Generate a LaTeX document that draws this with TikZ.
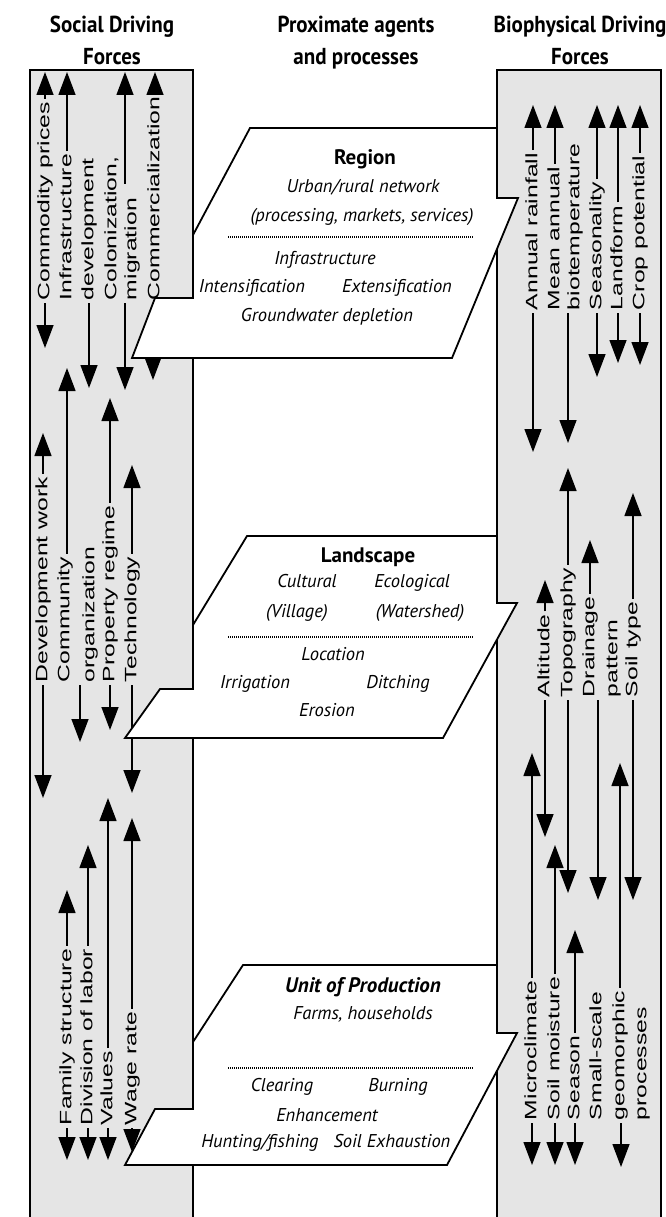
\documentclass[tikz,border=0pt]{standalone}
\usepackage{fontspec}
\setmainfont{PT Sans}
\newfontfamily\labfont{Liberation Sans}
\usetikzlibrary{arrows.meta}
\begin{document}
\begin{tikzpicture}[x=1pt, y=-1pt,
  column/.style={fill=gray!20},
  border/.style={line width=1.8pt},
  vlab/.style={rotate=90, xscale=1.5, anchor=west, inner sep=0pt, outer sep=2pt, text height=12pt, text depth=3.5pt, font=\labfont\fontsize{16.5}{20}\selectfont},
  arr/.style={line width=1.4pt, -{Triangle[length=23pt, width=17pt]}},
  panel/.style={fill=white, line width=1.8pt},
  heading/.style={align=center, anchor=north, inner sep=0pt, yscale=1.1, font=\bfseries\fontsize{21}{29}\selectfont},
  level/.style={inner sep=0pt, text height=14pt, text depth=4pt, font=\bfseries\fontsize{21}{24}\selectfont},
  agent/.style={inner sep=0pt, text height=12pt, text depth=4pt, font=\itshape\fontsize{18.5}{20}\selectfont},
  rule/.style={dash pattern=on 1pt off 1pt, line width=1.3pt}]

  \useasboundingbox (0,0) rectangle (666,1217);
  \fill[column] (30,70) rectangle (193,1217);
  \fill[column] (497,70) rectangle (661,1217);
  \draw[border] (30,1217) -- (30,70) -- (193,70) -- (193,1217);
  \draw[border] (497,1217) -- (497,70) -- (661,70) -- (661,1217);

  \node[heading] (sdf) at (112,16) {Social Driving\\Forces};
  \node[heading] (pap) at (356,16) {Proximate agents\\and processes};
  \node[heading] (bdf) at (580,16) {Biophysical Driving\\Forces};

  \node[vlab] (cp) at (45,303) {Commodity prices};
  \node[vlab] (inf) at (67,303) {Infrastructure};
  \node[vlab] (dev) at (89,303) {development};
  \node[vlab] (col) at (112,303) {Colonization,};
  \node[vlab] (mig) at (132,303) {migration};
  \node[vlab] (com) at (155,303) {Commercialization};
  \coordinate (cp-u) at (45,72);
  \coordinate (cp-d) at (45,348);
  \coordinate (inf-u) at (67,72);
  \coordinate (dev-d) at (89,388);
  \coordinate (mig-s) at (125,184);
  \coordinate (mig-u) at (125,72);
  \coordinate (mig-d) at (125,390);
  \coordinate (com-u) at (155,72);
  \coordinate (com-d) at (153,380);
  \draw[arr] (cp-u |- cp.east) -- (cp-u);
  \draw[arr] (cp-d |- cp.west) -- (cp-d);
  \draw[arr] (inf-u |- inf.east) -- (inf-u);
  \draw[arr] (dev-d |- dev.west) -- (dev-d);
  \draw[arr] (mig-s) -- (mig-u);
  \draw[arr] (mig-d |- mig.west) -- (mig-d);
  \draw[arr] (com-u |- com.east) -- (com-u);
  \draw[arr] (com-d |- com.west) -- (com-d);

  \node[vlab] (dw) at (43,685) {Development work};
  \node[vlab] (cmt) at (65,685) {Community};
  \node[vlab] (org) at (90,685) {organization};
  \node[vlab] (pr) at (110,685) {Property regime};
  \node[vlab] (tec) at (132,685) {Technology};
  \coordinate (dw-u) at (43,433);
  \coordinate (dw-d) at (43,798);
  \coordinate (cmt-u) at (67,368);
  \coordinate (org-d) at (80,742);
  \coordinate (pr-u) at (110,398);
  \coordinate (pr-d) at (110,730);
  \coordinate (tec-u) at (132,465);
  \coordinate (tec-d) at (132,793);
  \draw[arr] (dw-u |- dw.east) -- (dw-u);
  \draw[arr] (dw-d |- dw.west) -- (dw-d);
  \draw[arr] (cmt-u |- cmt.east) -- (cmt-u);
  \draw[arr] (org-d |- org.west) -- (org-d);
  \draw[arr] (pr-u |- pr.east) -- (pr-u);
  \draw[arr] (pr-d |- pr.west) -- (pr-d);
  \draw[arr] (tec-u |- tec.east) -- (tec-u);
  \draw[arr] (tec-d |- tec.west) -- (tec-d);

  \node[vlab] (fs) at (67,1128) {Family structure};
  \node[vlab] (dl) at (88,1128) {Division of labor};
  \node[vlab] (val) at (108,1128) {Values};
  \node[vlab] (wr) at (132,1128) {Wage rate};
  \coordinate (fs-u) at (67,890);
  \coordinate (fs-d) at (67,1160);
  \coordinate (dl-u) at (88,845);
  \coordinate (dl-d) at (88,1160);
  \coordinate (val-u) at (108,798);
  \coordinate (val-d) at (108,1160);
  \coordinate (wr-u) at (132,818);
  \coordinate (wr-d) at (132,1152);
  \draw[arr] (fs-u |- fs.east) -- (fs-u);
  \draw[arr] (fs-d |- fs.west) -- (fs-d);
  \draw[arr] (dl-u |- dl.east) -- (dl-u);
  \draw[arr] (dl-d |- dl.west) -- (dl-d);
  \draw[arr] (val-u |- val.east) -- (val-u);
  \draw[arr] (val-d |- val.west) -- (val-d);
  \draw[arr] (wr-u |- wr.east) -- (wr-u);
  \draw[arr] (wr-d |- wr.west) -- (wr-d);

  \node[vlab] (ar) at (533,313) {Annual rainfall};
  \node[vlab] (ma) at (555,313) {Mean annual};
  \node[vlab] (bt) at (575,313) {biotemperature};
  \node[vlab] (sea) at (597,313) {Seasonality};
  \node[vlab] (lf) at (618,313) {Landform};
  \node[vlab] (crp) at (640,313) {Crop potential};
  \coordinate (ar-u) at (533,105);
  \coordinate (ar-d) at (533,452);
  \coordinate (ma-u) at (555,105);
  \coordinate (bt-d) at (568,443);
  \coordinate (sea-u) at (597,105);
  \coordinate (sea-d) at (597,377);
  \coordinate (lf-u) at (618,105);
  \coordinate (lf-d) at (618,363);
  \coordinate (crp-u) at (640,105);
  \coordinate (crp-d) at (640,365);
  \draw[arr] (ar-u |- ar.east) -- (ar-u);
  \draw[arr] (ar-d |- ar.west) -- (ar-d);
  \draw[arr] (ma-u |- ma.east) -- (ma-u);
  \draw[arr] (bt-d |- bt.west) -- (bt-d);
  \draw[arr] (sea-u |- sea.east) -- (sea-u);
  \draw[arr] (sea-d |- sea.west) -- (sea-d);
  \draw[arr] (lf-u |- lf.east) -- (lf-u);
  \draw[arr] (lf-d |- lf.west) -- (lf-d);
  \draw[arr] (crp-u |- crp.east) -- (crp-u);
  \draw[arr] (crp-d |- crp.west) -- (crp-d);

  \node[vlab] (alt) at (545,700) {Altitude};
  \node[vlab] (topo) at (568,700) {Topography};
  \node[vlab] (dr) at (590,700) {Drainage};
  \node[vlab] (pat) at (613,700) {pattern};
  \node[vlab] (st) at (633,700) {Soil type};
  \coordinate (alt-u) at (545,580);
  \coordinate (alt-d) at (545,837);
  \coordinate (topo-u) at (568,468);
  \coordinate (topo-d) at (568,893);
  \coordinate (dr-u) at (590,540);
  \coordinate (pat-d) at (598,900);
  \coordinate (st-u) at (633,493);
  \coordinate (st-d) at (633,900);
  \draw[arr] (alt-u |- alt.east) -- (alt-u);
  \draw[arr] (alt-d |- alt.west) -- (alt-d);
  \draw[arr] (topo-u |- topo.east) -- (topo-u);
  \draw[arr] (topo-d |- topo.west) -- (topo-d);
  \draw[arr] (dr-u |- dr.east) -- (dr-u);
  \draw[arr] (pat-d |- pat.west) -- (pat-d);
  \draw[arr] (st-u |- st.east) -- (st-u);
  \draw[arr] (st-d |- st.west) -- (st-d);

  \node[vlab] (mc) at (532,1123) {Microclimate};
  \node[vlab] (sm) at (555,1123) {Soil moisture};
  \node[vlab] (ssn) at (575,1123) {Season};
  \node[vlab] (ss) at (597,1123) {Small-scale};
  \node[vlab] (geo) at (620,1123) {geomorphic};
  \node[vlab] (pro) at (642,1123) {processes};
  \coordinate (mc-u) at (532,753);
  \coordinate (mc-d) at (532,1165);
  \coordinate (sm-u) at (555,845);
  \coordinate (sm-d) at (555,1165);
  \coordinate (ssn-u) at (575,930);
  \coordinate (ssn-d) at (575,1165);
  \coordinate (geo-u) at (620,763);
  \coordinate (geo-d) at (621,1167);
  \draw[arr] (mc-u |- mc.east) -- (mc-u);
  \draw[arr] (mc-d |- mc.west) -- (mc-d);
  \draw[arr] (sm-u |- sm.east) -- (sm-u);
  \draw[arr] (sm-d |- sm.west) -- (sm-d);
  \draw[arr] (ssn-u |- ssn.east) -- (ssn-u);
  \draw[arr] (ssn-d |- ssn.west) -- (ssn-d);
  \draw[arr] (geo-u |- geo.east) -- (geo-u);
  \draw[arr] (geo-d |- geo.west) -- (geo-d);

  \filldraw[panel] (132,358) -- (155,298) -- (193,298) -- (193,235) -- (250,128) -- (497,128) -- (497,198) -- (518,198) -- (452,358) -- cycle;
  \node[level] (rg) at (365,160) {Region};
  \node[agent] (rg-a) at (363,189) {Urban/rural network};
  \node[agent] (rg-b) at (362,217) {(processing, markets, services)};
  \draw[rule] (228,237) -- (473,237);
  \node[agent] (rg-c) at (325,260) {Infrastructure};
  \node[agent] (rg-d) at (252,288) {Intensification};
  \node[agent] (rg-e) at (397,288) {Extensification};
  \node[agent] (rg-f) at (327,317) {Groundwater depletion};

  \filldraw[panel] (125,738) -- (160,689) -- (193,689) -- (193,625) -- (247,536) -- (497,536) -- (497,603) -- (517,603) -- (443,738) -- cycle;
  \node[level] (ls) at (368,557) {Landscape};
  \node[agent] (ls-a) at (307,583) {Cultural};
  \node[agent] (ls-b) at (297,613) {(Village)};
  \node[agent] (ls-c) at (412,583) {Ecological};
  \node[agent] (ls-d) at (420,613) {(Watershed)};
  \draw[rule] (228,637) -- (473,637);
  \node[agent] (ls-e) at (333,656) {Location};
  \node[agent] (ls-f) at (255,684) {Irrigation};
  \node[agent] (ls-g) at (398,684) {Ditching};
  \node[agent] (ls-h) at (327,712) {Erosion};

  \filldraw[panel] (125,1165) -- (155,1109) -- (193,1109) -- (193,1042) -- (243,965) -- (497,965) -- (497,1033) -- (517,1033) -- (447,1165) -- cycle;
  \node[level, font=\bfseries\itshape\fontsize{21}{24}\selectfont] (up) at (363,987) {Unit of Production};
  \node[agent] (up-a) at (363,1015) {Farms, households};
  \draw[rule] (228,1068) -- (473,1068);
  \node[agent] (up-b) at (282,1087) {Clearing};
  \node[agent] (up-c) at (398,1087) {Burning};
  \node[agent] (up-d) at (327,1117) {Enhancement};
  \node[agent] (up-e) at (260,1143) {Hunting/fishing};
  \node[agent] (up-f) at (392,1143) {Soil Exhaustion};
\end{tikzpicture}
\end{document}
